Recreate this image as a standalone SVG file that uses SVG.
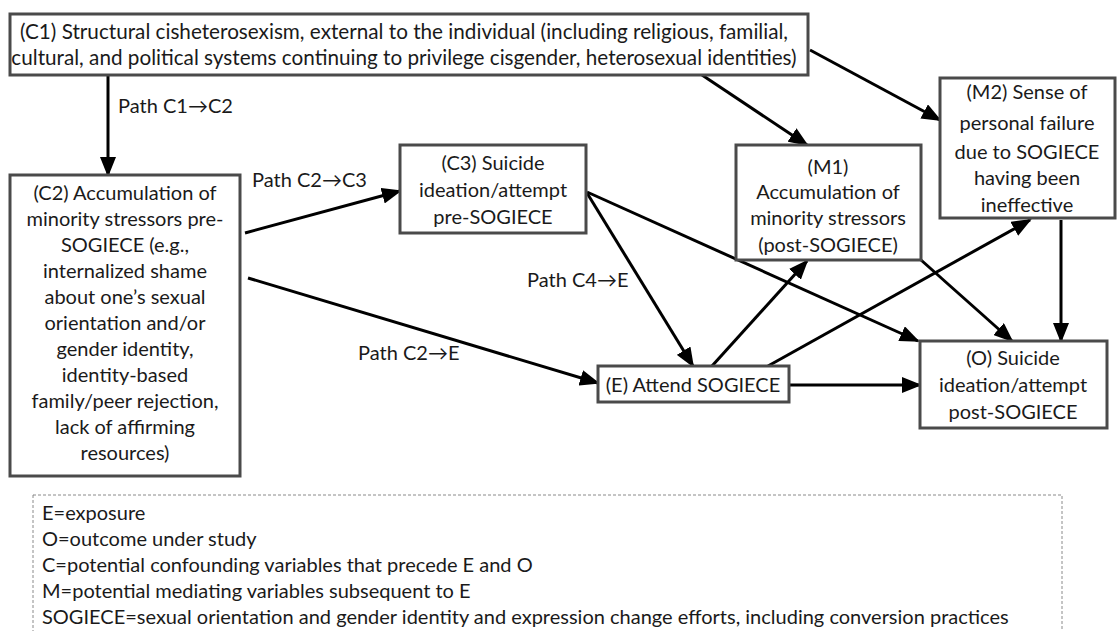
<svg xmlns="http://www.w3.org/2000/svg" width="1117" height="631" viewBox="0 0 1117 631">
<defs>
<style>
.box{fill:#fff;stroke:#4a4a4a;stroke-width:3}
.t{font-family:Lato,"Open Sans","Liberation Sans",sans-serif;font-size:20px;fill:#1a1a1a}
.big{font-size:20.7px}
.m{text-anchor:middle}
.c{stroke:#000;stroke-width:3;fill:none;marker-end:url(#ah)}
.leg{fill:none;stroke:#8a8a8a;stroke-width:1;stroke-dasharray:3 2}
</style>
<marker id="ah" markerUnits="userSpaceOnUse" markerWidth="20" markerHeight="16" refX="18" refY="8" orient="auto">
<path d="M0,0 L20,8 L0,16 z" fill="#000"/>
</marker>
</defs>
<rect width="1117" height="631" fill="#fff"/>
<g id="connectors">
<line class="c" x1="108" y1="75" x2="108" y2="175"/>
<line class="c" x1="245" y1="233" x2="400" y2="191"/>
<line class="c" x1="248" y1="278" x2="598" y2="383"/>
<line class="c" x1="587" y1="193" x2="693" y2="366"/>
<line class="c" x1="587" y1="192" x2="918" y2="341"/>
<line class="c" x1="702" y1="75" x2="807" y2="145"/>
<line class="c" x1="810" y1="50" x2="940" y2="120"/>
<line class="c" x1="712" y1="366" x2="807" y2="261"/>
<line class="c" x1="768" y1="366" x2="1030" y2="220"/>
<line class="c" x1="921" y1="260" x2="1012" y2="341"/>
<line class="c" x1="1061" y1="220" x2="1061" y2="341"/>
<line class="c" x1="789" y1="385" x2="920" y2="385"/>
<text class="t" x="118" y="113">Path C1→C2</text>
<text class="t" x="252" y="187">Path C2→C3</text>
<text class="t" x="527" y="287">Path C4→E</text>
<text class="t" x="358" y="360">Path C2→E</text>
</g>
<g id="C1">
<rect class="box" x="10" y="14" width="798" height="61"/>
<text class="t big m" x="404" y="39">(C1) Structural cisheterosexism, external to the individual (including religious, familial,</text>
<text class="t big m" x="404" y="65">cultural, and political systems continuing to privilege cisgender, heterosexual identities)</text>
</g>
<g id="C2">
<rect class="box" x="10" y="175" width="230" height="301"/>
<text class="t m" x="125" y="200">(C2) Accumulation of</text>
<text class="t m" x="125" y="226">minority stressors pre-</text>
<text class="t m" x="125" y="252">SOGIECE (e.g.,</text>
<text class="t m" x="125" y="278">internalized shame</text>
<text class="t m" x="125" y="304">about one’s sexual</text>
<text class="t m" x="125" y="330">orientation and/or</text>
<text class="t m" x="125" y="356">gender identity,</text>
<text class="t m" x="125" y="382">identity-based</text>
<text class="t m" x="125" y="408">family/peer rejection,</text>
<text class="t m" x="125" y="434">lack of affirming</text>
<text class="t m" x="125" y="460">resources)</text>
</g>
<g id="C3">
<rect class="box" x="400" y="145" width="186" height="88"/>
<text class="t m" x="493" y="170">(C3) Suicide</text>
<text class="t m" x="493" y="197">ideation/attempt</text>
<text class="t m" x="493" y="224">pre-SOGIECE</text>
</g>
<g id="M1">
<rect class="box" x="736" y="145" width="185" height="115"/>
<text class="t m" x="828" y="174">(M1)</text>
<text class="t m" x="828" y="199">Accumulation of</text>
<text class="t m" x="828" y="225">minority stressors</text>
<text class="t m" x="828" y="252">(post-SOGIECE)</text>
</g>
<g id="M2">
<rect class="box" x="940" y="78" width="175" height="140"/>
<text class="t m" x="1027" y="99">(M2) Sense of</text>
<text class="t m" x="1027" y="130">personal failure</text>
<text class="t m" x="1027" y="159">due to SOGIECE</text>
<text class="t m" x="1027" y="185">having been</text>
<text class="t m" x="1027" y="212">ineffective</text>
</g>
<g id="E">
<rect class="box" x="598" y="366" width="191" height="36"/>
<text class="t m" x="693" y="392">(E) Attend SOGIECE</text>
</g>
<g id="O">
<rect class="box" x="920" y="341" width="187" height="87"/>
<text class="t m" x="1013" y="365">(O) Suicide</text>
<text class="t m" x="1013" y="392">ideation/attempt</text>
<text class="t m" x="1013" y="419">post-SOGIECE</text>
</g>
<g id="legend">
<rect class="leg" x="33" y="495" width="1029" height="150"/>
<text class="t" x="42" y="520">E=exposure</text>
<text class="t" x="42" y="546">O=outcome under study</text>
<text class="t" x="42" y="572">C=potential confounding variables that precede E and O</text>
<text class="t" x="42" y="598">M=potential mediating variables subsequent to E</text>
<text class="t" x="42" y="624">SOGIECE=sexual orientation and gender identity and expression change efforts, including conversion practices</text>
</g>
</svg>
